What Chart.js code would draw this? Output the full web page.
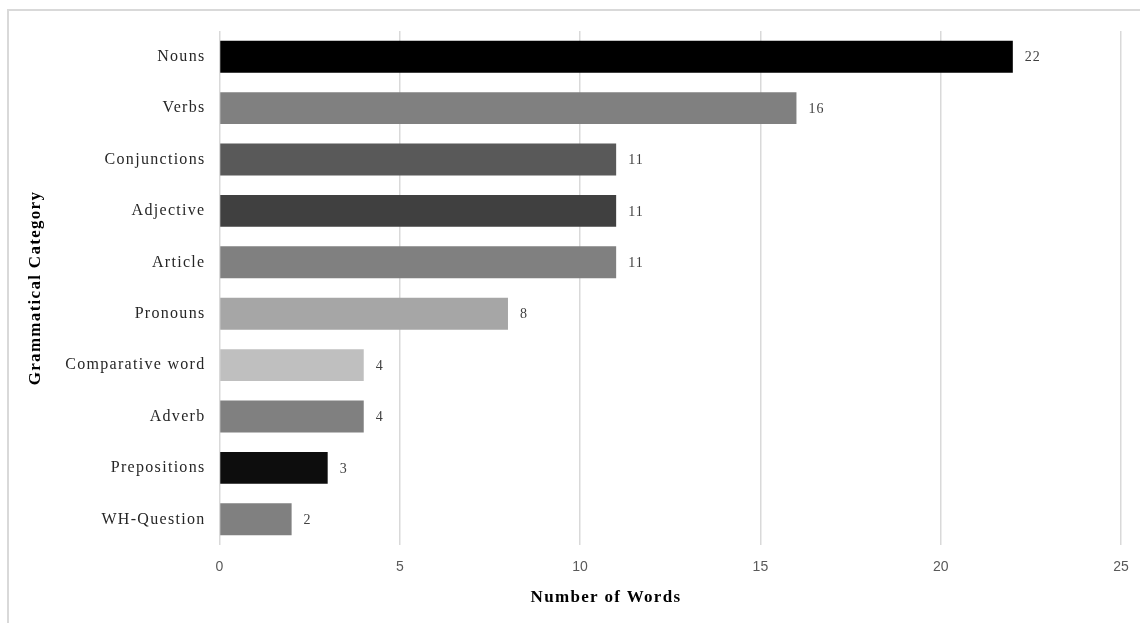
<!DOCTYPE html>
<html>
<head>
<meta charset="utf-8">
<script src="https://cdn.jsdelivr.net/npm/chart.js@4.4.1/dist/chart.umd.min.js"></script>
<style>
	html, body { margin: 0; padding: 0; background: #fff; }
	#wrap { position: relative; width: 1140px; height: 623px; overflow: hidden; }
	#frame {
		position: absolute; left: 7px; top: 9px; width: 1200px; height: 700px;
		border-left: 2px solid #d9d9d9; border-top: 2px solid #d9d9d9;
	}
	#chart-grammar { position: absolute; left: 0; top: 0; }
</style>
</head>
<body>
<div id="wrap">
	<div id="frame"></div>
	<canvas id="chart-grammar" width="1140" height="623"></canvas>
</div>
<script>
// Data
const CATEGORIES = ["Nouns", "Verbs", "Conjunctions", "Adjective", "Article", "Pronouns", "Comparative word", "Adverb", "Prepositions", "WH-Question"];
const WORD_COUNTS = [22, 16, 11, 11, 11, 8, 4, 4, 3, 2];
const BAR_COLORS = ["#000000", "#808080", "#595959", "#404040", "#808080", "#a6a6a6", "#bfbfbf", "#808080", "#0d0d0d", "#808080"];
const X_TICKS = [0, 5, 10, 15, 20, 25];

const SERIF = "'Liberation Serif', 'Times New Roman', serif";
const SANS = "'Liberation Sans', Arial, sans-serif";
const LOOSE = "1.3px";

//---------------------------------------------------------
// Plugins
//---------------------------------------------------------
// The serif text in the original is set loosely; the sans tick numbers are not.
// Y labels/title draw before the bars, the x tick numbers (z: 1) after them.
const looseText = {
	id: "looseText",
	beforeLayout(chart) {
		chart.ctx.letterSpacing = LOOSE;
	},
	beforeDraw(chart) {
		chart.ctx.letterSpacing = LOOSE;
	},
	afterDatasetsDraw(chart) {
		chart.ctx.letterSpacing = "0px";
	},
};

// Value labels at the end of each bar
const barValueLabels = {
	id: "barValueLabels",
	afterDatasetsDraw(chart) {
		const { ctx } = chart;
		const meta = chart.getDatasetMeta(0);
		ctx.save();
		ctx.letterSpacing = "1px";
		ctx.font = "14px " + SERIF;
		ctx.fillStyle = "#404040";
		ctx.textAlign = "left";
		ctx.textBaseline = "middle";
		meta.data.forEach((bar, i) => {
			ctx.fillText(String(WORD_COUNTS[i]), bar.x + 12, bar.y + 1);
		});
		ctx.restore();
	},
};

// X axis title, centred on the whole chart like the original
const xAxisTitle = {
	id: "xAxisTitle",
	afterDraw(chart) {
		const { ctx } = chart;
		ctx.save();
		ctx.letterSpacing = LOOSE;
		ctx.font = "bold 17px " + SERIF;
		ctx.fillStyle = "#000";
		ctx.textAlign = "center";
		ctx.textBaseline = "middle";
		ctx.fillText("Number of Words", 606, 598);
		ctx.restore();
	},
};

//---------------------------------------------------------
// Chart
//---------------------------------------------------------
const CHART_DATA = {
	labels: CATEGORIES,
	datasets: [
		{
			label: "Number of Words",
			data: WORD_COUNTS,
			backgroundColor: BAR_COLORS,
			borderWidth: 0,
			barPercentage: 0.62,
			categoryPercentage: 1,
		},
	],
};

const CHART_CONFIG = {
	type: "bar",
	data: CHART_DATA,
	plugins: [barValueLabels, looseText, xAxisTitle],
	options: {
		indexAxis: "y",
		responsive: false,
		animation: false,
		layout: {
			padding: { left: 9, top: 31, right: 19, bottom: 0 },
		},
		scales: {
			x: {
				min: 0,
				max: 25,
				afterFit: (scale) => {
					scale.height = 78;
					scale.paddingLeft = 0;
					scale.paddingRight = 0;
				},
				afterBuildTicks: (scale) => {
					scale.ticks = X_TICKS.map((v) => ({ value: v }));
				},
				border: { display: false },
				grid: {
					color: "#d9d9d9",
					lineWidth: 1.5,
					drawTicks: false,
				},
				ticks: {
					z: 1,
					padding: 14,
					color: "#595959",
					font: { family: SANS, size: 14 },
				},
			},
			y: {
				afterFit: (scale) => {
					scale.width = 210.5;
				},
				border: { display: false },
				grid: { display: false, drawTicks: false },
				ticks: {
					padding: 14,
					color: "#262626",
					font: { family: SERIF, size: 16 },
				},
				title: {
					display: true,
					text: "Grammatical Category",
					color: "#000",
					padding: { top: 16, bottom: 0 },
					font: { family: SERIF, size: 17, weight: "bold" },
				},
			},
		},
		plugins: {
			legend: { display: false },
			tooltip: { enabled: false },
		},
	},
};

new Chart(document.getElementById("chart-grammar"), CHART_CONFIG);
</script>
</body>
</html>
